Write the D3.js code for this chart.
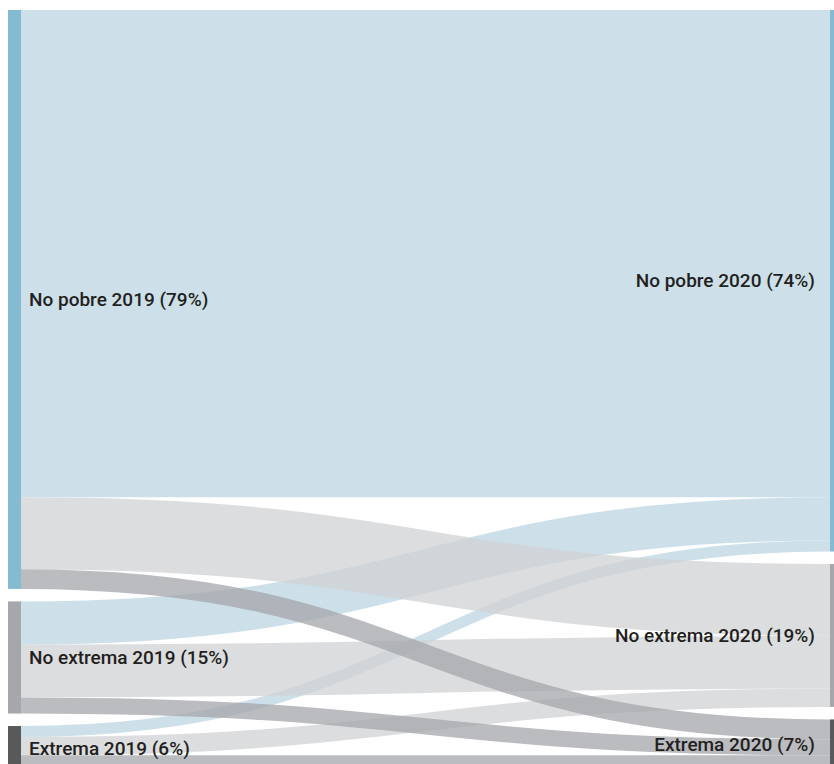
<!DOCTYPE html>
<html>
<head>
<meta charset="utf-8">
<script src="https://cdn.jsdelivr.net/npm/d3@7"></script>
<style>
  html, body { margin: 0; padding: 0; background: #fff; overflow: hidden; }
  #chart svg { display: block; }
</style>
</head>
<body>
<div id="chart"></div>
<script>
// nodes on each side
const sources = ["No pobre 2019", "No extrema 2019", "Extrema 2019"];
const targets = ["No pobre 2020", "No extrema 2020", "Extrema 2020"];
const sourceShares = [79, 15, 6];
const targetShares = [74, 19, 7];

// flows (% of population) from each 2019 group to the 2020 groups
const fromNoPobre   = [66.5, 9.8, 2.7];
const fromNoExtrema = [5.9, 7.2, 2.2];
const fromExtrema   = [1.5, 2.5, 2.0];
const flowRows = [fromNoPobre, fromNoExtrema, fromExtrema];

const nodeColors = ["#85bad3", "#a6a7aa", "#58595b"];
const linkColors = ["#bcd6e3", "#d0d2d4", "#a4a6ab"];

const width = 834, height = 764;
const extent = { x0: 8, y0: 10, x1: 843, y1: 770 };
const nodeWidth = 13, nodePadding = 12.5;

const svg = d3.select("#chart").append("svg")
  .attr("width", width)
  .attr("height", height);

const sourceTotals = flowRows.map(r => d3.sum(r));
const targetTotals = targets.map((t, j) => d3.sum(flowRows, r => r[j]));
const total = d3.sum(sourceTotals);

const k = d3.scaleLinear()
  .domain([0, total])
  .range([0, (extent.y1 - extent.y0) - nodePadding * (sources.length - 1)]);

function stack(totals) {
  let y = extent.y0;
  return totals.map(v => {
    const n = { y0: y, y1: y + k(v) };
    y = n.y1 + nodePadding;
    return n;
  });
}

const leftNodes = stack(sourceTotals).map((n, i) => ({ ...n, name: sources[i], share: sourceShares[i], x0: extent.x0, x1: extent.x0 + nodeWidth, side: "left", i }));
const rightNodes = stack(targetTotals).map((n, j) => ({ ...n, name: targets[j], share: targetShares[j], x0: extent.x1 - nodeWidth, x1: extent.x1, side: "right", i: j }));

// build links with band offsets at both ends
const links = [];
const outOffset = leftNodes.map(n => n.y0);
const inOffset = rightNodes.map(n => n.y0);
flowRows.forEach((row, i) => {
  row.forEach((v, j) => {
    const w = k(v);
    links.push({ source: i, target: j, value: v, width: w, y0: outOffset[i] + w / 2 });
    outOffset[i] += w;
  });
});
// incoming order follows source order
for (let j = 0; j < targets.length; j++) {
  links.filter(l => l.target === j).sort((a, b) => a.source - b.source).forEach(l => {
    l.y1 = inOffset[j] + l.width / 2;
    inOffset[j] += l.width;
  });
}
// blue first, then the gray ones on top
links.sort((a, b) => a.target - b.target || a.source - b.source);

const linkPath = d3.linkHorizontal()
  .source(d => [leftNodes[d.source].x1, d.y0])
  .target(d => [rightNodes[d.target].x0, d.y1]);

svg.append("g")
  .attr("fill", "none")
  .selectAll("path")
  .data(links)
  .enter().append("path")
  .attr("d", linkPath)
  .attr("stroke", d => linkColors[d.target])
  .attr("stroke-opacity", 0.75)
  .attr("stroke-width", d => Math.max(1, d.width));

const allNodes = leftNodes.concat(rightNodes);

svg.append("g")
  .selectAll("rect")
  .data(allNodes)
  .enter().append("rect")
  .attr("x", d => d.x0)
  .attr("y", d => d.y0)
  .attr("width", d => d.x1 - d.x0)
  .attr("height", d => d.y1 - d.y0)
  .attr("fill", d => nodeColors[d.i]);

svg.append("g")
  .style("font-family", "Roboto, 'Noto Sans', sans-serif")
  .style("font-size", "19px")
  .style("font-weight", 500)
  .style("fill", "#231f20")
  .selectAll("text")
  .data(allNodes)
  .enter().append("text")
  .attr("x", d => d.side === "left" ? d.x1 + 8 : d.x0 - 15)
  .attr("y", d => (d.y0 + d.y1) / 2)
  .attr("dy", "0.35em")
  .attr("text-anchor", d => d.side === "left" ? "start" : "end")
  .text(d => `${d.name} (${d.share}%)`);
</script>
</body>
</html>
